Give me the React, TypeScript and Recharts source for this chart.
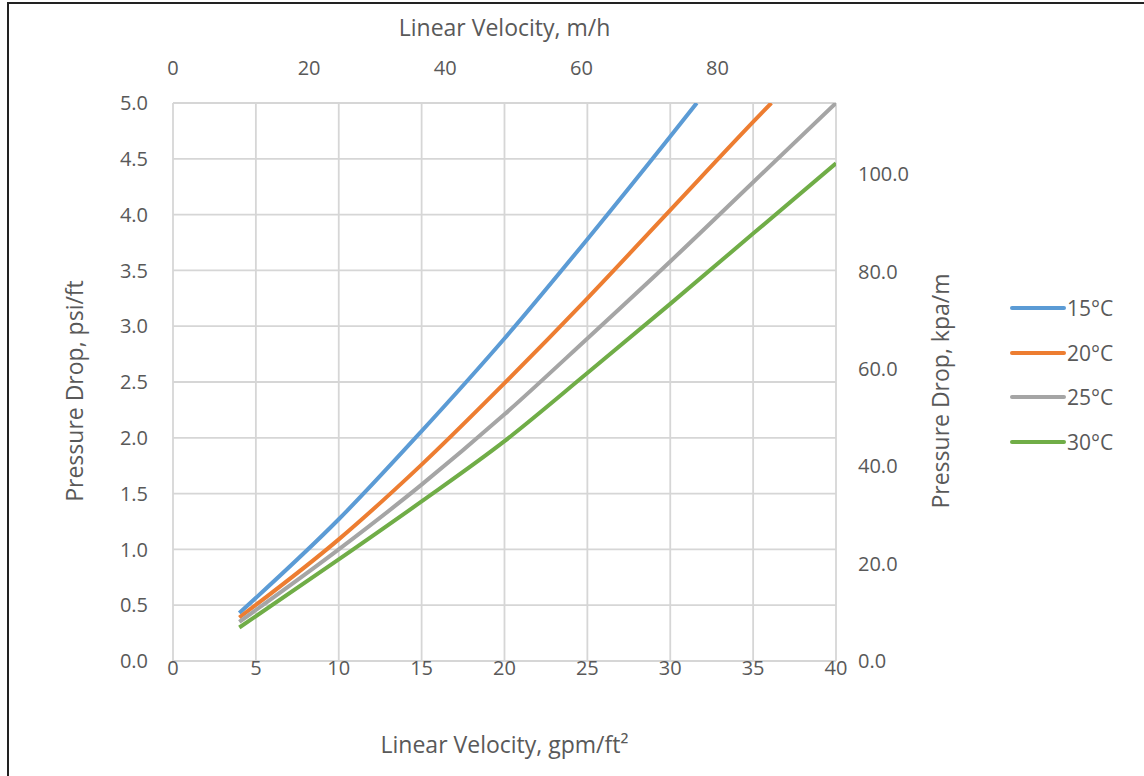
import React from "react";
import { LineChart, Line, XAxis, YAxis, CartesianGrid, Label } from "recharts";

// flow rate, gpm/ft2
const x15 = [4, 10, 15, 20, 25, 30, 31.6];
const x20 = [4, 10, 15, 20, 25, 30, 35, 36.1];
const x25 = [4, 10, 15, 20, 25, 30, 35, 40];
const x30 = [4, 10, 15, 20, 25, 30, 35, 40];

// pressure drop, psi/ft
const dp15 = [0.43, 1.27, 2.06, 2.89, 3.78, 4.7, 5.0];
const dp20 = [0.39, 1.09, 1.76, 2.49, 3.25, 4.04, 4.83, 5.0];
const dp25 = [0.35, 1.0, 1.58, 2.21, 2.89, 3.58, 4.29, 5.0];
const dp30 = [0.3, 0.91, 1.43, 1.97, 2.58, 3.2, 3.83, 4.46];

const bottomTicks = [0, 5, 10, 15, 20, 25, 30, 35, 40];
const topTicks = [0, 20, 40, 60, 80];
const leftTicks = [0, 0.5, 1, 1.5, 2, 2.5, 3, 3.5, 4, 4.5, 5];
const rightTicks = [0, 20, 40, 60, 80, 100];

// secondary axis scale factors as drawn in the source chart
const GPM_TO_MH = 2.435;
const PSI_TO_KPA = 22.92;

const FONT = "'Open Sans', 'Noto Sans', sans-serif";
const TEXT = "#595959";
const FS = 20; // tick labels
const TS = 23; // axis titles

const series = [
  { name: "15°C", xs: x15, ys: dp15, color: "#5B9BD5" },
  { name: "20°C", xs: x20, ys: dp20, color: "#ED7D31" },
  { name: "25°C", xs: x25, ys: dp25, color: "#A5A5A5" },
  { name: "30°C", xs: x30, ys: dp30, color: "#70AD47" },
];

const tick = { fill: TEXT, fontSize: FS, fontFamily: FONT };

function LegendBox() {
  return (
    <div
      style={{
        position: "absolute",
        left: 1010,
        top: 286,
        fontFamily: FONT,
        fontSize: 21,
        color: TEXT,
      }}
    >
      {series.map((s) => (
        <div key={s.name} style={{ display: "flex", alignItems: "center", height: 44.5 }}>
          <div style={{ width: 56, height: 4, background: s.color, borderRadius: 2 }} />
          <span style={{ marginLeft: 1 }}>{s.name}</span>
        </div>
      ))}
    </div>
  );
}

function vTitle(text: string, cx: number) {
  return ({ viewBox }: any) => {
    const cy = viewBox.y + viewBox.height / 2 + 9;
    return (
      <text
        x={cx}
        y={cy}
        transform={`rotate(-90 ${cx} ${cy})`}
        textAnchor="middle"
        dominantBaseline="central"
        fill={TEXT}
        fontSize={TS}
        fontFamily={FONT}
      >
        {text}
      </text>
    );
  };
}

function hTitle(text: string, dy: number) {
  return ({ viewBox }: any) => (
    <text
      x={viewBox.x + viewBox.width / 2}
      y={viewBox.y + dy}
      textAnchor="middle"
      fill={TEXT}
      fontSize={TS}
      fontFamily={FONT}
    >
      {text}
    </text>
  );
}

export default function App() {
  // 15°C curve re-expressed in the secondary units, used only to drive the top/right axes
  const secondary = x15.map((x, i) => ({ x: x * GPM_TO_MH, y: dp15[i] * PSI_TO_KPA }));

  return (
    <div style={{ position: "absolute", left: 0, top: 0, width: 1144, height: 776, background: "#fff" }}>
      <div
        style={{
          position: "absolute",
          left: 7,
          top: 2,
          right: 0,
          bottom: 0,
          borderTop: "2px solid #222",
          borderLeft: "2px solid #222",
        }}
      />
      <LineChart
        width={1144}
        height={776}
        margin={{ top: 10, right: 178, bottom: 10, left: 10 }}
        style={{ fontFamily: FONT }}
      >
        <CartesianGrid xAxisId="bottom" yAxisId="left" stroke="#d6d6d6" strokeWidth={1.8} />
        <XAxis
          xAxisId="bottom"
          type="number"
          dataKey="x"
          domain={[0, 40]}
          ticks={bottomTicks}
          height={105}
          axisLine={false}
          tickLine={false}
          tickSize={0}
          tickMargin={0}
          tick={tick}
          allowDataOverflow
        >
          <Label content={hTitle("Linear Velocity, gpm/ft²", 92)} />
        </XAxis>
        <XAxis
          xAxisId="top"
          orientation="top"
          type="number"
          dataKey="x"
          domain={[0, 40 * GPM_TO_MH]}
          ticks={topTicks}
          height={93}
          axisLine={false}
          tickLine={false}
          tickSize={0}
          tickMargin={28}
          tick={tick}
          allowDataOverflow
        >
          <Label content={hTitle("Linear Velocity, m/h", 26)} />
        </XAxis>
        <YAxis
          yAxisId="left"
          type="number"
          domain={[0, 5]}
          ticks={leftTicks}
          width={163}
          axisLine={false}
          tickLine={false}
          tickSize={0}
          tickMargin={25}
          tick={tick}
          tickFormatter={(v: number) => v.toFixed(1)}
          allowDataOverflow
        >
          <Label content={vTitle("Pressure Drop, psi/ft", 74)} />
        </YAxis>
        <YAxis
          yAxisId="right"
          orientation="right"
          type="number"
          domain={[0, 5 * PSI_TO_KPA]}
          ticks={rightTicks}
          width={130}
          axisLine={false}
          tickLine={false}
          tickSize={0}
          tickMargin={22}
          tick={tick}
          tickFormatter={(v: number) => v.toFixed(1)}
          allowDataOverflow
        >
          <Label content={vTitle("Pressure Drop, kpa/m", 940)} />
        </YAxis>
        <Line
          xAxisId="top"
          yAxisId="right"
          data={secondary}
          dataKey="y"
          stroke="none"
          dot={false}
          activeDot={false}
          legendType="none"
          isAnimationActive={false}
        />
        {series.map((s) => (
          <Line
            key={s.name}
            name={s.name}
            xAxisId="bottom"
            yAxisId="left"
            data={s.xs.map((x, i) => ({ x, y: s.ys[i] }))}
            dataKey="y"
            type="monotone"
            stroke={s.color}
            strokeWidth={4}
            dot={false}
            activeDot={false}
            isAnimationActive={false}
          />
        ))}
      </LineChart>
      <LegendBox />
    </div>
  );
}
